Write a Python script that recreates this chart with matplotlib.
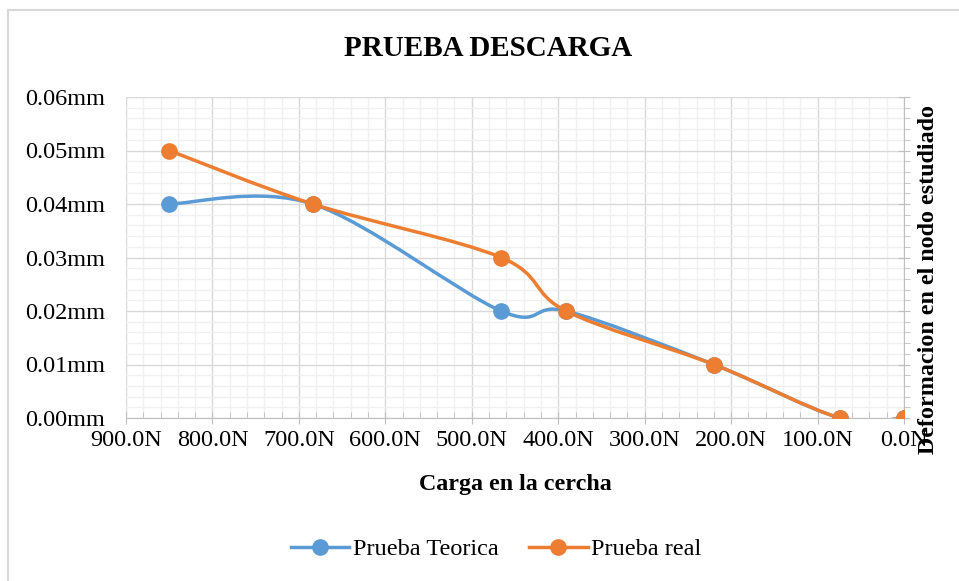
import numpy as np
import matplotlib.pyplot as plt
from matplotlib.path import Path
from matplotlib.patches import PathPatch
from matplotlib.lines import Line2D
from matplotlib.ticker import MultipleLocator, FuncFormatter

carga = [850, 684, 466, 391, 220, 74, 0]
teorica = [0.04, 0.04, 0.02, 0.02, 0.01, 0.0, 0.0]
real = [0.05, 0.04, 0.03, 0.02, 0.01, 0.0, 0.0]

azul = '#5B9BD5'
naranja = '#ED7D31'

plt.rcParams['font.family'] = ['Liberation Serif', 'DejaVu Serif']


def curva_suave(ax, xs, ys, color):
    # bezier through the points, like the smoothed lines in a spreadsheet
    pts = np.column_stack([xs, ys]).astype(float)
    n = len(pts)
    verts = [pts[0]]
    codes = [Path.MOVETO]
    for i in range(n - 1):
        p0 = pts[i - 1] if i > 0 else pts[i]
        p1 = pts[i]
        p2 = pts[i + 1]
        p3 = pts[i + 2] if i + 2 < n else pts[i + 1]
        c1 = p1 + (p2 - p0) / 6.0
        c2 = p2 - (p3 - p1) / 6.0
        verts += [c1, c2, p2]
        codes += [Path.CURVE4] * 3
    patch = PathPatch(Path(verts, codes), facecolor='none', edgecolor=color,
                      lw=2.5, capstyle='round', zorder=3)
    ax.add_patch(patch)


fig = plt.figure(figsize=(9.59, 5.81), dpi=100)
ax = fig.add_axes([126 / 959, 1 - 418 / 581, (904 - 126) / 959, (418 - 97) / 581])

curva_suave(ax, carga, teorica, azul)
curva_suave(ax, carga, real, naranja)
ax.plot(carga, teorica, 'o', color=azul, ms=11, zorder=4)
ax.plot(carga, real, 'o', color=naranja, ms=11, zorder=5)

ax.set_xlim(900, 0)
ax.set_ylim(0, 0.06)
ax.xaxis.set_major_locator(MultipleLocator(100))
ax.xaxis.set_minor_locator(MultipleLocator(20))
ax.yaxis.set_major_locator(MultipleLocator(0.01))
ax.yaxis.set_minor_locator(MultipleLocator(0.002))
ax.xaxis.set_major_formatter(FuncFormatter(lambda v, p: f'{v:.1f}N'))
ax.yaxis.set_major_formatter(FuncFormatter(lambda v, p: f'{v:.2f}mm'))

ax.grid(which='major', color='#d9d9d9', lw=1.0)
ax.grid(which='minor', color='#f0f0f0', lw=1.0)
ax.set_axisbelow(True)

for s in ['top', 'left']:
    ax.spines[s].set_visible(False)
ax.spines['bottom'].set_color('#bfbfbf')
ax.spines['right'].set_color('#bfbfbf')

ax.tick_params(axis='x', which='major', direction='inout', length=8, color='#bfbfbf',
               labelsize=17.5, pad=5)
ax.tick_params(axis='x', which='minor', direction='in', length=4, color='#bfbfbf')
ax.tick_params(axis='y', which='both', left=False, right=True, labelleft=True,
               labelright=False, color='#bfbfbf', labelsize=17.5, pad=11)
ax.tick_params(axis='y', which='major', direction='inout', length=8)
ax.tick_params(axis='y', which='minor', direction='out', length=4)

ax.set_xlabel('Carga en la cercha', fontsize=17.3, fontweight='bold', labelpad=16.5)
fig.text(928 / 959, 1 - 279 / 581, 'Deformacion en el nodo estudiado', rotation=90,
         ha='center', va='center', fontsize=17.3, fontweight='bold')
fig.text(488 / 959, 1 - 49 / 581, 'PRUEBA DESCARGA', ha='center', va='center',
         fontsize=21, fontweight='bold')

handles = [Line2D([], [], color=azul, lw=2.5, marker='o', ms=11),
           Line2D([], [], color=naranja, lw=2.5, marker='o', ms=11)]
fig.legend(handles, ['Prueba Teorica', 'Prueba real'], loc='center',
           bbox_to_anchor=(496 / 959, 1 - 549 / 581), ncol=2, frameon=False,
           fontsize=17.5, handlelength=2.4, handletextpad=0.15, columnspacing=1.27)

# chart frame
fig.add_artist(Line2D([8 / 959, 8 / 959], [0, 1 - 10 / 581], color='#d9d9d9', lw=1.5,
                      transform=fig.transFigure))
fig.add_artist(Line2D([8 / 959, 1], [1 - 10 / 581, 1 - 10 / 581], color='#d9d9d9', lw=1.5,
                      transform=fig.transFigure))

fig.savefig('out.png', dpi=100, facecolor='white')
